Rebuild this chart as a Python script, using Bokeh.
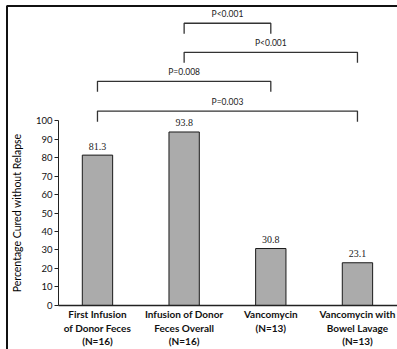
from bokeh.plotting import figure
from bokeh.models import Range1d, FixedTicker, ColumnDataSource
from bokeh.core.properties import value
from bokeh.embed import file_html
from bokeh.resources import INLINE

# ---- data ----
categories = [
    "First Infusion\nof Donor Feces\n(N=16)",
    "Infusion of Donor\nFeces Overall\n(N=16)",
    "Vancomycin\n(N=13)",
    "Vancomycin with\nBowel Lavage\n(N=13)",
]
cured_pct = [81.3, 93.8, 30.8, 23.1]
value_labels = ["81.3", "93.8", "30.8", "23.1"]
y_ticks = [0, 10, 20, 30, 40, 50, 60, 70, 80, 90, 100]

# comparisons: (group a, group b, p-value text)
comp_a = [1, 1, 0, 0]
comp_b = [2, 3, 2, 3]
comp_p = ["P<0.001", "P<0.001", "P=0.008", "P=0.003"]

# ---- layout / style ----
bracket_level = [152.6, 136.9, 121.2, 105.1]
leg = 5.7
X0, X1 = -0.619, 3.962
Y0, Y1 = -23.8, 164.9
YAXIS_AT = 0.05
FRAME_X, FRAME_Y = -0.544, 161.9

xpos = [i + 0.5 for i in range(len(categories))]

p = figure(width=397, height=349, output_backend="svg", toolbar_location=None,
           x_range=Range1d(X0, X1), y_range=Range1d(Y0, Y1),
           min_border=0, min_border_left=0, min_border_right=0,
           min_border_top=0, min_border_bottom=0)
p.outline_line_color = None
p.xgrid.visible = False
p.ygrid.visible = False
p.background_fill_color = "white"
p.border_fill_color = "white"

# page frame (top and left edges)
p.line(x=[FRAME_X, FRAME_X, X1], y=[Y0, FRAME_Y, FRAME_Y], line_color="#111",
       line_width=2)

src = ColumnDataSource(dict(x=xpos, top=cured_pct, lab=value_labels))
p.vbar(x="x", top="top", width=0.35, bottom=0, source=src,
       fill_color="#ababab", line_color="#1a1a1a", line_width=1)
p.text(x="x", y="top", text="lab", source=src, text_align="center",
       text_baseline="middle", y_offset=-9, text_font=value("Liberation Serif"),
       text_font_size="10px", text_color="#222")

# brackets
for a, b, txt, lvl in zip(comp_a, comp_b, comp_p, bracket_level):
    xa, xb = xpos[a], xpos[b]
    p.line(x=[xa, xa, xb, xb], y=[lvl - leg, lvl, lvl, lvl - leg],
           line_color="#333", line_width=1.3)
    p.text(x=[(xa + xb) / 2], y=[lvl], text=[txt], text_align="center",
           text_baseline="middle", y_offset=-9, text_font=value("Lato"),
           text_font_size="8.5px", text_color="#222")

# y axis
ya = p.yaxis[0]
ya.fixed_location = YAXIS_AT
ya.bounds = (0, 100)
ya.ticker = FixedTicker(ticks=y_ticks)
ya.minor_tick_line_color = None
ya.major_tick_out = 4
ya.major_tick_in = 0
ya.major_label_standoff = 2
ya.major_label_text_font = "Lato"
ya.major_label_text_font_size = "9.5px"
ya.major_label_text_color = "#111"
ya.axis_line_color = "#222"
ya.major_tick_line_color = "#222"
ya.axis_label = "Percentage Cured without Relapse"
ya.axis_label_text_font = "Lato"
ya.axis_label_text_font_size = "10.5px"
ya.axis_label_text_font_style = "normal"
ya.axis_label_text_color = "#000"
ya.axis_label_standoff = 10

# x axis
xa_ = p.xaxis[0]
xa_.fixed_location = 0
xa_.bounds = (YAXIS_AT, X1)
xa_.ticker = FixedTicker(ticks=xpos)
xa_.major_label_overrides = {x: c for x, c in zip(xpos, categories)}
xa_.minor_tick_line_color = None
xa_.major_tick_out = 0
xa_.major_tick_in = 0
xa_.major_label_standoff = 3
xa_.major_label_text_font = "Lato"
xa_.major_label_text_font_size = "10px"
xa_.major_label_text_font_style = "bold"
xa_.major_label_text_color = "#111"
xa_.major_label_text_line_height = 1.1
xa_.axis_line_color = "#222"
xa_.axis_line_width = 1.5

open("out.html", "w").write(file_html(p, INLINE))
